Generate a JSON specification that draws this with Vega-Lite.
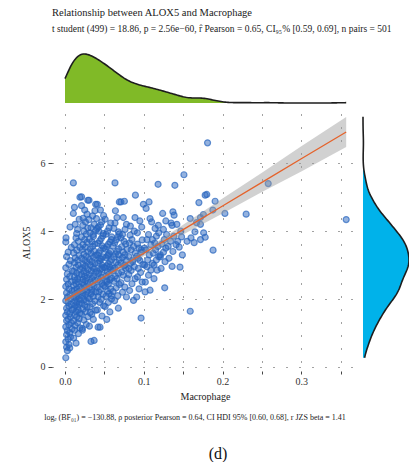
{
  "$schema": "https://vega.github.io/schema/vega-lite/v6.json",
  "padding": {"left": 21, "top": 7, "right": 0, "bottom": 0},
  "background": "white",
  "config": {
    "font": "Liberation Serif, DejaVu Serif, serif",
    "view": {"stroke": null},
    "axis": {
      "grid": true,
      "gridDash": [1, 12],
      "gridColor": "#444444",
      "gridWidth": 1,
      "domain": false,
      "tickColor": "#444444",
      "tickSize": 3,
      "labelFont": "Liberation Serif, DejaVu Serif, serif",
      "labelFontSize": 10,
      "labelColor": "#333333",
      "titleFont": "Liberation Serif, DejaVu Serif, serif",
      "titleFontSize": 10,
      "titleFontWeight": "normal",
      "titleColor": "#222222"
    }
  },
  "title": {
    "text": "Relationship between ALOX5 and Macrophage",
    "subtitle": "t student (499) = 18.86, p = 2.56e−60, r̂ Pearson = 0.65, CI₉₅% [0.59, 0.69], n pairs = 501",
    "anchor": "start",
    "frame": "group",
    "font": "Liberation Serif, DejaVu Serif, serif",
    "subtitleFont": "Liberation Serif, DejaVu Serif, serif",
    "fontSize": 10.5,
    "fontWeight": "normal",
    "color": "#1a1a1a",
    "subtitleFontSize": 9.5,
    "subtitleColor": "#1a1a1a",
    "subtitlePadding": 6,
    "offset": 17
  },
  "datasets": {
    "cells": [
      {"Macrophage":0.001,"ALOX5":0.27},{"Macrophage":0.003,"ALOX5":0.48},{"Macrophage":0.002,"ALOX5":0.58},{"Macrophage":0.005,"ALOX5":0.66},{"Macrophage":0.001,"ALOX5":0.74},{"Macrophage":0.004,"ALOX5":0.82},{"Macrophage":0.007,"ALOX5":0.88},{"Macrophage":0.002,"ALOX5":0.95},{"Macrophage":0.006,"ALOX5":1.01},{"Macrophage":0.003,"ALOX5":1.07},{"Macrophage":0.009,"ALOX5":1.12},{"Macrophage":0.001,"ALOX5":1.18},{"Macrophage":0.005,"ALOX5":1.24},{"Macrophage":0.008,"ALOX5":1.3},{"Macrophage":0.002,"ALOX5":1.36},{"Macrophage":0.004,"ALOX5":1.41},{"Macrophage":0.007,"ALOX5":1.47},{"Macrophage":0.001,"ALOX5":1.52},{"Macrophage":0.006,"ALOX5":1.57},{"Macrophage":0.003,"ALOX5":1.62},{"Macrophage":0.009,"ALOX5":1.68},{"Macrophage":0.002,"ALOX5":1.73},{"Macrophage":0.005,"ALOX5":1.79},{"Macrophage":0.008,"ALOX5":1.84},{"Macrophage":0.004,"ALOX5":1.9},{"Macrophage":0.001,"ALOX5":1.95},{"Macrophage":0.007,"ALOX5":2.01},{"Macrophage":0.003,"ALOX5":2.06},{"Macrophage":0.006,"ALOX5":2.12},{"Macrophage":0.002,"ALOX5":2.18},{"Macrophage":0.009,"ALOX5":2.24},{"Macrophage":0.005,"ALOX5":2.3},{"Macrophage":0.001,"ALOX5":2.37},{"Macrophage":0.004,"ALOX5":2.44},{"Macrophage":0.008,"ALOX5":2.51},{"Macrophage":0.002,"ALOX5":2.58},{"Macrophage":0.006,"ALOX5":2.66},{"Macrophage":0.003,"ALOX5":2.74},{"Macrophage":0.009,"ALOX5":2.83},{"Macrophage":0.001,"ALOX5":2.92},{"Macrophage":0.005,"ALOX5":3.02},{"Macrophage":0.007,"ALOX5":3.13},{"Macrophage":0.002,"ALOX5":3.25},{"Macrophage":0.004,"ALOX5":3.38},{"Macrophage":0.008,"ALOX5":3.52},{"Macrophage":0.001,"ALOX5":3.68},{"Macrophage":0.0013,"ALOX5":3.8},{"Macrophage":0.0064,"ALOX5":4.12},{"Macrophage":0.006,"ALOX5":0.56},
      {"Macrophage":0.014,"ALOX5":0.7},{"Macrophage":0.011,"ALOX5":0.85},{"Macrophage":0.017,"ALOX5":0.98},{"Macrophage":0.012,"ALOX5":1.08},{"Macrophage":0.019,"ALOX5":1.15},{"Macrophage":0.013,"ALOX5":1.22},{"Macrophage":0.016,"ALOX5":1.3},{"Macrophage":0.011,"ALOX5":1.36},{"Macrophage":0.018,"ALOX5":1.42},{"Macrophage":0.015,"ALOX5":1.48},{"Macrophage":0.012,"ALOX5":1.53},{"Macrophage":0.019,"ALOX5":1.58},{"Macrophage":0.014,"ALOX5":1.63},{"Macrophage":0.017,"ALOX5":1.68},{"Macrophage":0.011,"ALOX5":1.72},{"Macrophage":0.016,"ALOX5":1.77},{"Macrophage":0.013,"ALOX5":1.81},{"Macrophage":0.018,"ALOX5":1.85},{"Macrophage":0.015,"ALOX5":1.9},{"Macrophage":0.012,"ALOX5":1.94},{"Macrophage":0.019,"ALOX5":1.98},{"Macrophage":0.014,"ALOX5":2.02},{"Macrophage":0.011,"ALOX5":2.06},{"Macrophage":0.017,"ALOX5":2.1},{"Macrophage":0.013,"ALOX5":2.14},{"Macrophage":0.016,"ALOX5":2.18},{"Macrophage":0.018,"ALOX5":2.22},{"Macrophage":0.012,"ALOX5":2.26},{"Macrophage":0.015,"ALOX5":2.3},{"Macrophage":0.019,"ALOX5":2.35},{"Macrophage":0.011,"ALOX5":2.4},{"Macrophage":0.014,"ALOX5":2.45},{"Macrophage":0.017,"ALOX5":2.5},{"Macrophage":0.013,"ALOX5":2.55},{"Macrophage":0.016,"ALOX5":2.6},{"Macrophage":0.012,"ALOX5":2.65},{"Macrophage":0.018,"ALOX5":2.7},{"Macrophage":0.015,"ALOX5":2.76},{"Macrophage":0.011,"ALOX5":2.82},{"Macrophage":0.019,"ALOX5":2.88},{"Macrophage":0.014,"ALOX5":2.94},{"Macrophage":0.017,"ALOX5":3.0},{"Macrophage":0.012,"ALOX5":3.07},{"Macrophage":0.016,"ALOX5":3.14},{"Macrophage":0.013,"ALOX5":3.21},{"Macrophage":0.018,"ALOX5":3.28},{"Macrophage":0.011,"ALOX5":3.36},{"Macrophage":0.015,"ALOX5":3.44},{"Macrophage":0.019,"ALOX5":3.52},{"Macrophage":0.012,"ALOX5":3.6},{"Macrophage":0.017,"ALOX5":3.7},{"Macrophage":0.014,"ALOX5":3.8},{"Macrophage":0.0148,"ALOX5":3.93},{"Macrophage":0.016,"ALOX5":4.05},{"Macrophage":0.013,"ALOX5":4.2},{"Macrophage":0.018,"ALOX5":4.35},{"Macrophage":0.0106,"ALOX5":4.52},{"Macrophage":0.012,"ALOX5":4.7},{"Macrophage":0.019,"ALOX5":5.0},{"Macrophage":0.0106,"ALOX5":5.42},
      {"Macrophage":0.022,"ALOX5":1.08},{"Macrophage":0.022,"ALOX5":1.13},{"Macrophage":0.027,"ALOX5":1.25},{"Macrophage":0.024,"ALOX5":1.38},{"Macrophage":0.029,"ALOX5":1.48},{"Macrophage":0.021,"ALOX5":1.56},{"Macrophage":0.026,"ALOX5":1.63},{"Macrophage":0.023,"ALOX5":1.7},{"Macrophage":0.028,"ALOX5":1.76},{"Macrophage":0.025,"ALOX5":1.82},{"Macrophage":0.021,"ALOX5":1.88},{"Macrophage":0.027,"ALOX5":1.93},{"Macrophage":0.024,"ALOX5":1.98},{"Macrophage":0.029,"ALOX5":2.03},{"Macrophage":0.022,"ALOX5":2.08},{"Macrophage":0.026,"ALOX5":2.13},{"Macrophage":0.023,"ALOX5":2.18},{"Macrophage":0.028,"ALOX5":2.22},{"Macrophage":0.025,"ALOX5":2.27},{"Macrophage":0.021,"ALOX5":2.31},{"Macrophage":0.027,"ALOX5":2.36},{"Macrophage":0.024,"ALOX5":2.4},{"Macrophage":0.029,"ALOX5":2.45},{"Macrophage":0.022,"ALOX5":2.49},{"Macrophage":0.026,"ALOX5":2.54},{"Macrophage":0.023,"ALOX5":2.58},{"Macrophage":0.028,"ALOX5":2.63},{"Macrophage":0.025,"ALOX5":2.67},{"Macrophage":0.021,"ALOX5":2.72},{"Macrophage":0.027,"ALOX5":2.77},{"Macrophage":0.024,"ALOX5":2.82},{"Macrophage":0.029,"ALOX5":2.87},{"Macrophage":0.022,"ALOX5":2.92},{"Macrophage":0.026,"ALOX5":2.97},{"Macrophage":0.023,"ALOX5":3.02},{"Macrophage":0.028,"ALOX5":3.08},{"Macrophage":0.025,"ALOX5":3.14},{"Macrophage":0.021,"ALOX5":3.2},{"Macrophage":0.027,"ALOX5":3.26},{"Macrophage":0.024,"ALOX5":3.32},{"Macrophage":0.029,"ALOX5":3.39},{"Macrophage":0.022,"ALOX5":3.46},{"Macrophage":0.026,"ALOX5":3.53},{"Macrophage":0.023,"ALOX5":3.6},{"Macrophage":0.028,"ALOX5":3.67},{"Macrophage":0.025,"ALOX5":3.75},{"Macrophage":0.021,"ALOX5":3.83},{"Macrophage":0.027,"ALOX5":3.91},{"Macrophage":0.024,"ALOX5":4.0},{"Macrophage":0.029,"ALOX5":4.09},{"Macrophage":0.0225,"ALOX5":4.17},{"Macrophage":0.026,"ALOX5":4.27},{"Macrophage":0.023,"ALOX5":4.38},{"Macrophage":0.028,"ALOX5":4.5},{"Macrophage":0.025,"ALOX5":4.62},{"Macrophage":0.021,"ALOX5":4.75},{"Macrophage":0.029,"ALOX5":4.91},{"Macrophage":0.021,"ALOX5":5.01},
      {"Macrophage":0.033,"ALOX5":0.75},{"Macrophage":0.037,"ALOX5":0.78},{"Macrophage":0.031,"ALOX5":1.2},{"Macrophage":0.036,"ALOX5":1.4},{"Macrophage":0.034,"ALOX5":1.55},{"Macrophage":0.039,"ALOX5":1.67},{"Macrophage":0.032,"ALOX5":1.77},{"Macrophage":0.035,"ALOX5":1.86},{"Macrophage":0.038,"ALOX5":1.94},{"Macrophage":0.031,"ALOX5":2.01},{"Macrophage":0.036,"ALOX5":2.08},{"Macrophage":0.033,"ALOX5":2.15},{"Macrophage":0.039,"ALOX5":2.21},{"Macrophage":0.034,"ALOX5":2.27},{"Macrophage":0.031,"ALOX5":2.33},{"Macrophage":0.037,"ALOX5":2.39},{"Macrophage":0.035,"ALOX5":2.45},{"Macrophage":0.032,"ALOX5":2.5},{"Macrophage":0.038,"ALOX5":2.56},{"Macrophage":0.034,"ALOX5":2.61},{"Macrophage":0.036,"ALOX5":2.67},{"Macrophage":0.031,"ALOX5":2.72},{"Macrophage":0.039,"ALOX5":2.78},{"Macrophage":0.033,"ALOX5":2.83},{"Macrophage":0.037,"ALOX5":2.89},{"Macrophage":0.035,"ALOX5":2.94},{"Macrophage":0.032,"ALOX5":3.0},{"Macrophage":0.038,"ALOX5":3.05},{"Macrophage":0.034,"ALOX5":3.11},{"Macrophage":0.031,"ALOX5":3.17},{"Macrophage":0.036,"ALOX5":3.23},{"Macrophage":0.039,"ALOX5":3.29},{"Macrophage":0.033,"ALOX5":3.35},{"Macrophage":0.037,"ALOX5":3.41},{"Macrophage":0.032,"ALOX5":3.48},{"Macrophage":0.035,"ALOX5":3.55},{"Macrophage":0.038,"ALOX5":3.62},{"Macrophage":0.034,"ALOX5":3.69},{"Macrophage":0.031,"ALOX5":3.76},{"Macrophage":0.036,"ALOX5":3.84},{"Macrophage":0.0318,"ALOX5":3.95},{"Macrophage":0.039,"ALOX5":4.02},{"Macrophage":0.033,"ALOX5":4.1},{"Macrophage":0.037,"ALOX5":4.2},{"Macrophage":0.0305,"ALOX5":4.34},{"Macrophage":0.035,"ALOX5":4.45},{"Macrophage":0.038,"ALOX5":4.6},{"Macrophage":0.039,"ALOX5":4.79},{"Macrophage":0.0305,"ALOX5":4.91},{"Macrophage":0.034,"ALOX5":2.2},{"Macrophage":0.032,"ALOX5":1.6},{"Macrophage":0.036,"ALOX5":3.9},
      {"Macrophage":0.042,"ALOX5":1.17},{"Macrophage":0.0445,"ALOX5":1.17},{"Macrophage":0.047,"ALOX5":1.5},{"Macrophage":0.041,"ALOX5":1.68},{"Macrophage":0.049,"ALOX5":1.8},{"Macrophage":0.044,"ALOX5":1.9},{"Macrophage":0.046,"ALOX5":1.99},{"Macrophage":0.042,"ALOX5":2.07},{"Macrophage":0.048,"ALOX5":2.14},{"Macrophage":0.043,"ALOX5":2.21},{"Macrophage":0.045,"ALOX5":2.28},{"Macrophage":0.041,"ALOX5":2.34},{"Macrophage":0.049,"ALOX5":2.4},{"Macrophage":0.047,"ALOX5":2.46},{"Macrophage":0.044,"ALOX5":2.52},{"Macrophage":0.042,"ALOX5":2.58},{"Macrophage":0.046,"ALOX5":2.64},{"Macrophage":0.048,"ALOX5":2.7},{"Macrophage":0.043,"ALOX5":2.76},{"Macrophage":0.041,"ALOX5":2.82},{"Macrophage":0.045,"ALOX5":2.88},{"Macrophage":0.049,"ALOX5":2.94},{"Macrophage":0.047,"ALOX5":3.0},{"Macrophage":0.042,"ALOX5":3.06},{"Macrophage":0.044,"ALOX5":3.12},{"Macrophage":0.046,"ALOX5":3.18},{"Macrophage":0.048,"ALOX5":3.24},{"Macrophage":0.041,"ALOX5":3.3},{"Macrophage":0.043,"ALOX5":3.36},{"Macrophage":0.045,"ALOX5":3.43},{"Macrophage":0.049,"ALOX5":3.5},{"Macrophage":0.047,"ALOX5":3.57},{"Macrophage":0.042,"ALOX5":3.64},{"Macrophage":0.044,"ALOX5":3.71},{"Macrophage":0.046,"ALOX5":3.78},{"Macrophage":0.048,"ALOX5":3.86},{"Macrophage":0.0487,"ALOX5":3.93},{"Macrophage":0.043,"ALOX5":4.0},{"Macrophage":0.041,"ALOX5":4.08},{"Macrophage":0.0423,"ALOX5":4.12},{"Macrophage":0.045,"ALOX5":4.18},{"Macrophage":0.0466,"ALOX5":4.27},{"Macrophage":0.04,"ALOX5":4.37},{"Macrophage":0.049,"ALOX5":4.46},{"Macrophage":0.045,"ALOX5":4.62},{"Macrophage":0.041,"ALOX5":4.79},{"Macrophage":0.047,"ALOX5":2.9},{"Macrophage":0.044,"ALOX5":3.2},
      {"Macrophage":0.053,"ALOX5":1.4},{"Macrophage":0.057,"ALOX5":1.62},{"Macrophage":0.051,"ALOX5":1.78},{"Macrophage":0.055,"ALOX5":1.9},{"Macrophage":0.059,"ALOX5":2.0},{"Macrophage":0.052,"ALOX5":2.08},{"Macrophage":0.056,"ALOX5":2.16},{"Macrophage":0.054,"ALOX5":2.23},{"Macrophage":0.058,"ALOX5":2.3},{"Macrophage":0.051,"ALOX5":2.37},{"Macrophage":0.055,"ALOX5":2.44},{"Macrophage":0.053,"ALOX5":2.5},{"Macrophage":0.057,"ALOX5":2.56},{"Macrophage":0.059,"ALOX5":2.62},{"Macrophage":0.052,"ALOX5":2.68},{"Macrophage":0.056,"ALOX5":2.74},{"Macrophage":0.054,"ALOX5":2.8},{"Macrophage":0.058,"ALOX5":2.86},{"Macrophage":0.051,"ALOX5":2.92},{"Macrophage":0.053,"ALOX5":2.98},{"Macrophage":0.055,"ALOX5":3.04},{"Macrophage":0.057,"ALOX5":3.1},{"Macrophage":0.059,"ALOX5":3.16},{"Macrophage":0.052,"ALOX5":3.22},{"Macrophage":0.054,"ALOX5":3.28},{"Macrophage":0.056,"ALOX5":3.34},{"Macrophage":0.058,"ALOX5":3.4},{"Macrophage":0.051,"ALOX5":3.47},{"Macrophage":0.053,"ALOX5":3.54},{"Macrophage":0.055,"ALOX5":3.61},{"Macrophage":0.057,"ALOX5":3.68},{"Macrophage":0.059,"ALOX5":3.75},{"Macrophage":0.0593,"ALOX5":3.83},{"Macrophage":0.052,"ALOX5":3.91},{"Macrophage":0.054,"ALOX5":4.0},{"Macrophage":0.056,"ALOX5":4.1},{"Macrophage":0.058,"ALOX5":4.24},{"Macrophage":0.051,"ALOX5":4.35},{"Macrophage":0.053,"ALOX5":2.55},{"Macrophage":0.057,"ALOX5":2.95},{"Macrophage":0.055,"ALOX5":3.3},{"Macrophage":0.059,"ALOX5":2.1},
      {"Macrophage":0.0677,"ALOX5":1.73},{"Macrophage":0.063,"ALOX5":1.95},{"Macrophage":0.067,"ALOX5":2.1},{"Macrophage":0.061,"ALOX5":2.22},{"Macrophage":0.065,"ALOX5":2.33},{"Macrophage":0.069,"ALOX5":2.43},{"Macrophage":0.062,"ALOX5":2.52},{"Macrophage":0.066,"ALOX5":2.6},{"Macrophage":0.064,"ALOX5":2.68},{"Macrophage":0.068,"ALOX5":2.76},{"Macrophage":0.061,"ALOX5":2.84},{"Macrophage":0.063,"ALOX5":2.92},{"Macrophage":0.067,"ALOX5":3.0},{"Macrophage":0.065,"ALOX5":3.08},{"Macrophage":0.069,"ALOX5":3.16},{"Macrophage":0.062,"ALOX5":3.24},{"Macrophage":0.064,"ALOX5":3.32},{"Macrophage":0.066,"ALOX5":3.4},{"Macrophage":0.068,"ALOX5":3.48},{"Macrophage":0.061,"ALOX5":3.56},{"Macrophage":0.063,"ALOX5":3.65},{"Macrophage":0.065,"ALOX5":3.74},{"Macrophage":0.067,"ALOX5":3.83},{"Macrophage":0.069,"ALOX5":3.92},{"Macrophage":0.0678,"ALOX5":3.98},{"Macrophage":0.062,"ALOX5":4.08},{"Macrophage":0.0635,"ALOX5":4.24},{"Macrophage":0.066,"ALOX5":4.4},{"Macrophage":0.064,"ALOX5":4.6},{"Macrophage":0.069,"ALOX5":4.86},{"Macrophage":0.0635,"ALOX5":5.42},{"Macrophage":0.061,"ALOX5":2.9},{"Macrophage":0.068,"ALOX5":3.3},
      {"Macrophage":0.078,"ALOX5":2.06},{"Macrophage":0.073,"ALOX5":2.2},{"Macrophage":0.076,"ALOX5":2.35},{"Macrophage":0.071,"ALOX5":2.48},{"Macrophage":0.079,"ALOX5":2.6},{"Macrophage":0.074,"ALOX5":2.7},{"Macrophage":0.072,"ALOX5":2.8},{"Macrophage":0.077,"ALOX5":2.9},{"Macrophage":0.075,"ALOX5":2.98},{"Macrophage":0.071,"ALOX5":3.06},{"Macrophage":0.078,"ALOX5":3.14},{"Macrophage":0.073,"ALOX5":3.22},{"Macrophage":0.076,"ALOX5":3.3},{"Macrophage":0.074,"ALOX5":3.38},{"Macrophage":0.079,"ALOX5":3.46},{"Macrophage":0.072,"ALOX5":3.54},{"Macrophage":0.077,"ALOX5":3.62},{"Macrophage":0.075,"ALOX5":3.7},{"Macrophage":0.071,"ALOX5":3.8},{"Macrophage":0.073,"ALOX5":3.9},{"Macrophage":0.0762,"ALOX5":4.05},{"Macrophage":0.078,"ALOX5":4.2},{"Macrophage":0.074,"ALOX5":4.4},{"Macrophage":0.0754,"ALOX5":4.88},{"Macrophage":0.071,"ALOX5":4.86},{"Macrophage":0.076,"ALOX5":3.0},
      {"Macrophage":0.087,"ALOX5":1.96},{"Macrophage":0.082,"ALOX5":2.25},{"Macrophage":0.085,"ALOX5":2.45},{"Macrophage":0.089,"ALOX5":2.6},{"Macrophage":0.081,"ALOX5":2.72},{"Macrophage":0.084,"ALOX5":2.84},{"Macrophage":0.088,"ALOX5":2.95},{"Macrophage":0.083,"ALOX5":3.05},{"Macrophage":0.086,"ALOX5":3.15},{"Macrophage":0.081,"ALOX5":3.25},{"Macrophage":0.089,"ALOX5":3.35},{"Macrophage":0.084,"ALOX5":3.45},{"Macrophage":0.087,"ALOX5":3.55},{"Macrophage":0.082,"ALOX5":3.65},{"Macrophage":0.085,"ALOX5":3.75},{"Macrophage":0.0826,"ALOX5":3.88},{"Macrophage":0.088,"ALOX5":4.0},{"Macrophage":0.083,"ALOX5":4.15},{"Macrophage":0.0889,"ALOX5":4.4},{"Macrophage":0.0894,"ALOX5":5.06},{"Macrophage":0.086,"ALOX5":3.1},{"Macrophage":0.081,"ALOX5":2.9},
      {"Macrophage":0.0966,"ALOX5":1.44},{"Macrophage":0.091,"ALOX5":2.06},{"Macrophage":0.094,"ALOX5":2.3},{"Macrophage":0.098,"ALOX5":2.5},{"Macrophage":0.092,"ALOX5":2.65},{"Macrophage":0.096,"ALOX5":2.78},{"Macrophage":0.093,"ALOX5":2.9},{"Macrophage":0.099,"ALOX5":3.02},{"Macrophage":0.095,"ALOX5":3.14},{"Macrophage":0.091,"ALOX5":3.26},{"Macrophage":0.097,"ALOX5":3.38},{"Macrophage":0.094,"ALOX5":3.5},{"Macrophage":0.092,"ALOX5":3.62},{"Macrophage":0.098,"ALOX5":3.74},{"Macrophage":0.0919,"ALOX5":3.95},{"Macrophage":0.0974,"ALOX5":4.12},{"Macrophage":0.095,"ALOX5":4.3},{"Macrophage":0.0995,"ALOX5":4.79},{"Macrophage":0.093,"ALOX5":3.2},{"Macrophage":0.097,"ALOX5":3.45},
      {"Macrophage":0.1017,"ALOX5":2.21},{"Macrophage":0.108,"ALOX5":2.26},{"Macrophage":0.104,"ALOX5":2.95},{"Macrophage":0.102,"ALOX5":2.5},{"Macrophage":0.106,"ALOX5":2.7},{"Macrophage":0.109,"ALOX5":2.85},{"Macrophage":0.101,"ALOX5":3.0},{"Macrophage":0.105,"ALOX5":3.15},{"Macrophage":0.107,"ALOX5":3.3},{"Macrophage":0.103,"ALOX5":3.45},{"Macrophage":0.109,"ALOX5":3.6},{"Macrophage":0.104,"ALOX5":3.75},{"Macrophage":0.106,"ALOX5":3.9},{"Macrophage":0.11,"ALOX5":4.27},{"Macrophage":0.108,"ALOX5":4.37},{"Macrophage":0.103,"ALOX5":4.67},{"Macrophage":0.1067,"ALOX5":4.86},{"Macrophage":0.101,"ALOX5":3.5},
      {"Macrophage":0.113,"ALOX5":2.6},{"Macrophage":0.117,"ALOX5":2.85},{"Macrophage":0.111,"ALOX5":3.05},{"Macrophage":0.116,"ALOX5":3.15},{"Macrophage":0.119,"ALOX5":3.25},{"Macrophage":0.112,"ALOX5":3.35},{"Macrophage":0.115,"ALOX5":3.45},{"Macrophage":0.118,"ALOX5":3.55},{"Macrophage":0.114,"ALOX5":3.65},{"Macrophage":0.111,"ALOX5":3.75},{"Macrophage":0.116,"ALOX5":3.85},{"Macrophage":0.119,"ALOX5":3.95},{"Macrophage":0.1144,"ALOX5":4.08},{"Macrophage":0.1185,"ALOX5":4.17},{"Macrophage":0.1182,"ALOX5":5.38},{"Macrophage":0.113,"ALOX5":3.0},
      {"Macrophage":0.1266,"ALOX5":2.33},{"Macrophage":0.122,"ALOX5":2.9},{"Macrophage":0.127,"ALOX5":3.1},{"Macrophage":0.121,"ALOX5":3.24},{"Macrophage":0.125,"ALOX5":3.38},{"Macrophage":0.128,"ALOX5":3.5},{"Macrophage":0.123,"ALOX5":3.62},{"Macrophage":0.126,"ALOX5":3.75},{"Macrophage":0.129,"ALOX5":3.9},{"Macrophage":0.125,"ALOX5":4.05},{"Macrophage":0.124,"ALOX5":4.52},{"Macrophage":0.128,"ALOX5":4.3},{"Macrophage":0.121,"ALOX5":3.3},
      {"Macrophage":0.136,"ALOX5":2.96},{"Macrophage":0.132,"ALOX5":3.2},{"Macrophage":0.137,"ALOX5":3.4},{"Macrophage":0.131,"ALOX5":3.55},{"Macrophage":0.134,"ALOX5":3.7},{"Macrophage":0.138,"ALOX5":3.85},{"Macrophage":0.136,"ALOX5":4.17},{"Macrophage":0.1347,"ALOX5":4.24},{"Macrophage":0.1385,"ALOX5":4.47},{"Macrophage":0.137,"ALOX5":4.57},{"Macrophage":0.1395,"ALOX5":5.35},
      {"Macrophage":0.146,"ALOX5":2.94},{"Macrophage":0.145,"ALOX5":3.53},{"Macrophage":0.141,"ALOX5":3.6},{"Macrophage":0.148,"ALOX5":3.83},{"Macrophage":0.143,"ALOX5":3.7},{"Macrophage":0.147,"ALOX5":4.0},{"Macrophage":0.142,"ALOX5":4.2},{"Macrophage":0.149,"ALOX5":3.3},
      {"Macrophage":0.151,"ALOX5":5.66},{"Macrophage":0.159,"ALOX5":4.37},{"Macrophage":0.1757,"ALOX5":4.49},{"Macrophage":0.165,"ALOX5":3.98},{"Macrophage":0.176,"ALOX5":3.95},{"Macrophage":0.18,"ALOX5":5.08},{"Macrophage":0.181,"ALOX5":6.6},{"Macrophage":0.178,"ALOX5":5.06},{"Macrophage":0.17,"ALOX5":4.84},{"Macrophage":0.1906,"ALOX5":4.88},{"Macrophage":0.1877,"ALOX5":4.62},{"Macrophage":0.172,"ALOX5":4.4},{"Macrophage":0.172,"ALOX5":4.2},{"Macrophage":0.167,"ALOX5":4.25},{"Macrophage":0.16,"ALOX5":3.8},{"Macrophage":0.172,"ALOX5":3.75},{"Macrophage":0.178,"ALOX5":3.82},{"Macrophage":0.188,"ALOX5":3.44},{"Macrophage":0.159,"ALOX5":1.64},{"Macrophage":0.155,"ALOX5":3.7},{"Macrophage":0.164,"ALOX5":3.66},
      {"Macrophage":0.203,"ALOX5":4.52},{"Macrophage":0.23,"ALOX5":4.5},{"Macrophage":0.258,"ALOX5":5.4},{"Macrophage":0.357,"ALOX5":4.34}
    ],
    "fit": [
      {"Macrophage":0,"fit":1.96,"lo":1.87,"hi":2.05},
      {"Macrophage":0.05,"fit":2.655,"lo":2.59,"hi":2.72},
      {"Macrophage":0.1,"fit":3.35,"lo":3.26,"hi":3.44},
      {"Macrophage":0.15,"fit":4.045,"lo":3.9,"hi":4.19},
      {"Macrophage":0.2,"fit":4.74,"lo":4.52,"hi":4.96},
      {"Macrophage":0.25,"fit":5.435,"lo":5.15,"hi":5.72},
      {"Macrophage":0.3,"fit":6.13,"lo":5.76,"hi":6.5},
      {"Macrophage":0.357,"fit":6.92,"lo":6.48,"hi":7.36}
    ]
  },
  "columns": 2,
  "align": "each",
  "bounds": "flush",
  "spacing": {"row": 11, "column": 5},
  "concat": [
    {
      "width": 306,
      "height": 49,
      "data": {"name": "cells"},
      "transform": [{"density": "Macrophage", "bandwidth": 0.011, "extent": [0, 0.357], "steps": 200}],
      "encoding": {
        "x": {"field": "value", "type": "quantitative", "scale": {"domain": [-0.0165, 0.372], "nice": false, "zero": false}, "axis": null},
        "y": {"field": "density", "type": "quantitative", "scale": {"nice": false, "zero": true}, "axis": null}
      },
      "layer": [
        {"mark": {"type": "area", "color": "#80BA27"}, "encoding": {}},
        {"mark": {"type": "line", "color": "#1e1e1e", "strokeWidth": 1.6}, "encoding": {}}
      ]
    },
    {
      "width": 46,
      "height": 49,
      "data": {"values": []},
      "mark": {"type": "point", "opacity": 0}
    },
    {
      "width": 306,
      "height": 257,
      "title": {
        "text": "logₑ (BF₀₁) = −130.88, ρ posterior Pearson = 0.64, CI HDI 95% [0.60, 0.68], r JZS beta = 1.41",
        "orient": "bottom",
        "anchor": "middle",
        "frame": "group",
        "font": "Liberation Serif, DejaVu Serif, serif",
        "fontSize": 8,
        "fontWeight": "normal",
        "color": "#1a1a1a",
        "offset": 13,
        "dx": -10
      },
      "encoding": {
        "x": {
          "field": "Macrophage",
          "type": "quantitative",
          "title": "Macrophage",
          "scale": {"domain": [-0.0165, 0.372], "nice": false, "zero": false},
          "axis": {
            "values": [0, 0.05, 0.1, 0.15, 0.2, 0.25, 0.3, 0.35],
            "labelExpr": "round(datum.value * 100) % 10 === 0 ? format(datum.value, '.1f') : ''",
            "labelPadding": 2,
            "titlePadding": 5
          }
        }
      },
      "layer": [
        {
          "data": {"name": "cells"},
          "mark": {"type": "circle", "size": 36, "color": "#2A66BF", "fillOpacity": 0.5, "stroke": "#2A66BF", "strokeOpacity": 0.7, "strokeWidth": 1.2},
          "encoding": {
            "y": {
              "field": "ALOX5",
              "type": "quantitative",
              "title": "ALOX5",
              "scale": {"domain": [-0.12, 7.45], "nice": false, "zero": false},
              "axis": {
                "values": [0, 1, 2, 3, 4, 5, 6, 7],
                "labelExpr": "datum.value % 2 === 0 ? datum.label : ''",
                "tickSize": 4,
                "labelPadding": 3,
                "titlePadding": 9
              }
            }
          }
        },
        {
          "data": {"name": "fit"},
          "mark": {"type": "area", "color": "#999999", "opacity": 0.45},
          "encoding": {
            "y": {"field": "lo", "type": "quantitative", "title": "ALOX5"},
            "y2": {"field": "hi"}
          }
        },
        {
          "data": {"name": "fit"},
          "mark": {"type": "line", "color": "#E5622A", "strokeWidth": 1.3},
          "encoding": {
            "y": {"field": "fit", "type": "quantitative", "title": "ALOX5"}
          }
        }
      ]
    },
    {
      "width": 46,
      "height": 257,
      "title": {
        "text": "(d)",
        "orient": "bottom",
        "anchor": "middle",
        "frame": "group",
        "font": "Liberation Serif, DejaVu Serif, serif",
        "fontSize": 16,
        "fontWeight": "normal",
        "color": "#111111",
        "offset": 75,
        "dx": -168
      },
      "data": {"name": "cells"},
      "transform": [{"density": "ALOX5", "bandwidth": 0.25, "extent": [0.27, 7.37], "steps": 200}],
      "encoding": {
        "y": {"field": "value", "type": "quantitative", "scale": {"domain": [-0.12, 7.45], "nice": false, "zero": false}, "axis": null},
        "x": {"field": "density", "type": "quantitative", "scale": {"nice": false, "zero": true}, "axis": null}
      },
      "layer": [
        {"mark": {"type": "area", "orient": "horizontal", "color": "#00B2EA"}, "encoding": {}},
        {"mark": {"type": "line", "color": "#1e1e1e", "strokeWidth": 1.6}, "encoding": {"order": {"field": "value", "type": "quantitative"}}}
      ]
    }
  ]
}
